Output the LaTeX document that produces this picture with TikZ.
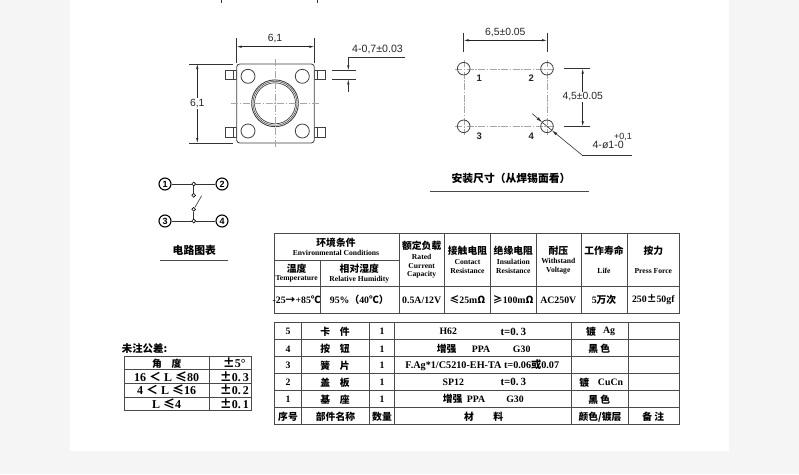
\documentclass[tikz,border=0pt]{standalone}
\usepackage{fontspec}
\setmainfont{Liberation Serif}
\newfontfamily\cjk{Noto Sans CJK SC}
\newfontfamily\dimfont{Liberation Sans}
\usetikzlibrary{arrows.meta}
\definecolor{pagegray}{HTML}{F5F5F5}
\definecolor{rulegray}{HTML}{4A4A4A}
\tikzset{
  part/.style={line width=0.8pt, black!75},
  center line/.style={line width=0.35pt, gray!70, dash pattern=on 7pt off 1.5pt on 1.5pt off 1.5pt},
  thin line/.style={line width=0.6pt, black!80},
  dim/.style={line width=0.6pt, black!85, {Latex[length=5pt,width=2.4pt]}-{Latex[length=5pt,width=2.4pt]}},
  dim label/.style={inner sep=1pt, font=\dimfont\fontsize{10.4}{11}\selectfont, black!85},
  small label/.style={inner sep=1pt, font=\dimfont\fontsize{10.6}{11}\selectfont, black!85},
  pin label/.style={inner sep=0pt, font=\dimfont\bfseries\fontsize{9.5}{10}\selectfont, black!85},
  rule/.style={line width=0.9pt, rulegray},
  heading/.style={inner sep=0pt, font=\cjk\bfseries\fontsize{10.8}{12}\selectfont},
  terminal/.style={circle, draw, line width=1.1pt, inner sep=0pt, minimum size=12pt, font=\dimfont\bfseries\fontsize{9}{9}\selectfont},
  contact/.style={circle, draw, line width=0.6pt, fill=white, inner sep=0pt, minimum size=3.8pt},
  zh/.style={inner sep=0pt, font=\cjk\bfseries\fontsize{9.8}{10}\selectfont},
  en/.style={inner sep=0pt, font=\bfseries\fontsize{7.6}{8}\selectfont},
  val/.style={inner sep=0pt, font=\bfseries\fontsize{9.8}{10}\selectfont},
  tol/.style={inner sep=0pt, font=\bfseries\fontsize{12}{13}\selectfont}
}
\begin{document}
\begin{tikzpicture}[x=1pt, y=-1pt]
  \useasboundingbox (0,0) rectangle (799,474);
  \fill[pagegray] (0,0) rectangle (799,474);
  \fill[white] (70,0) rectangle (729,451);

  \draw[thin line] (221.7,0) -- (221.7,3);
  \draw[thin line] (317.3,0) -- (317.3,3);

  \draw[part] (225.7,70.3) rectangle (236.7,79.3);
  \draw[part] (225.7,127.7) rectangle (236.7,137);
  \draw[part] (314.3,70.3) rectangle (325.3,79.3);
  \draw[part] (314.3,127.7) rectangle (325.3,137);
  \draw[part] (233,70.3) -- (233,79.3);
  \draw[part] (233,127.7) -- (233,137);
  \draw[part] (317.5,70.3) -- (317.5,79.3);
  \draw[part] (317.5,127.7) -- (317.5,137);
  \draw[part, fill=white, rounded corners=3pt] (236.7,64) rectangle (314.3,143);
  \draw[part] (248,76.3) circle (7);
  \draw[part] (302.3,76.3) circle (7);
  \draw[part] (248,131) circle (7);
  \draw[part] (302.3,131) circle (7);
  \draw[part, line width=0.9pt] (275,103.3) circle (23.4);
  \draw[part, line width=0.5pt] (275,103.3) circle (22);
  \draw[part, line width=0.7pt] (275,103.3) circle (20.5);
  \draw[center line] (275.3,59) -- (275.3,147.7);
  \draw[center line] (231,103.3) -- (319.3,103.3);

  \draw[thin line] (236.7,38) -- (236.7,63);
  \draw[thin line] (314.3,38) -- (314.3,63);
  \coordinate (wl) at (236.7,46.7);
  \coordinate (wr) at (314.3,46.7);
  \draw[dim] (wl) -- (wr);
  \node[dim label] (wtext) at (275,38.5) {6,1};
  \draw[thin line] (189.3,64) -- (232.7,64);
  \draw[thin line] (189.3,143) -- (232.7,143);
  \coordinate (ht) at (197.3,64);
  \coordinate (hb) at (197.3,143);
  \draw[dim] (ht) -- (hb);
  \node[dim label, fill=white] (htext) at (197.3,103.3) {6,1};
  \draw[thin line] (332.3,70.3) -- (356,70.3);
  \draw[thin line] (332.3,79.3) -- (356,79.3);
  \coordinate (pt) at (348.3,57.3);
  \coordinate (pe) at (405,57.3);
  \coordinate (pa) at (348.3,70.3);
  \coordinate (pc) at (348.3,79.3);
  \coordinate (pb) at (348.3,91.7);
  \draw[thin line, -{Latex[length=5pt,width=2.4pt]}] (pt) -- (pa);
  \draw[thin line, -{Latex[length=5pt,width=2.4pt]}] (pb) -- (pc);
  \draw[thin line] (pt) -- (pe);
  \node[small label, anchor=west] (ptext) at (351,49) {4-0,7±0.03};

  \draw[center line] (455,68.7) -- (555,68.7);
  \draw[center line] (455,126.3) -- (555,126.3);
  \draw[center line] (463.7,60) -- (463.7,135);
  \draw[center line] (547,60) -- (547,135);
  \draw[part] (463.7,68.7) circle (6.3);
  \draw[part] (547,68.7) circle (6.3);
  \draw[part] (463.7,126.3) circle (6.3);
  \draw[part] (547,126.3) circle (6.3);
  \node[pin label] (hole1) at (479.3,78.3) {1};
  \node[pin label] (hole2) at (531.3,78.3) {2};
  \node[pin label] (hole3) at (479.3,136) {3};
  \node[pin label] (hole4) at (531.3,136) {4};

  \draw[thin line] (463.7,32.7) -- (463.7,51.7);
  \draw[thin line] (547,32.7) -- (547,51.7);
  \coordinate (sl) at (463.7,40.3);
  \coordinate (sr) at (547,40.3);
  \draw[dim] (sl) -- (sr);
  \node[dim label] (stext) at (505.3,32.3) {6,5±0.05};
  \draw[thin line] (564.3,68.7) -- (590,68.7);
  \draw[thin line] (564.3,126.3) -- (590,126.3);
  \coordinate (vt) at (582.7,68.7);
  \coordinate (vb) at (582.7,126.3);
  \draw[dim] (vt) -- (vb);
  \node[dim label, fill=white] (vtext) at (582.7,97) {4,5±0.05};
  \coordinate (da) at (532.3,113.7);
  \coordinate (de) at (542.2,122.3);
  \coordinate (df) at (551.8,130.3);
  \coordinate (db) at (582.3,155.3);
  \coordinate (dc) at (631.7,155.3);
  \draw[thin line, -{Latex[length=6pt,width=3pt]}] (da) -- (de);
  \draw[thin line, -{Latex[length=6pt,width=3pt]}] (db) -- (df);
  \draw[thin line] (de) -- (df);
  \draw[thin line] (db) -- (dc);
  \node[small label, anchor=east] (dtext) at (625,144.7) {4-ø1-0};
  \node[small label, font=\dimfont\fontsize{9}{9}\selectfont] (dplus) at (623,136.7) {+0,1};

  \node[heading] (mounttitle) at (511,178.3) {安装尺寸（从焊锡面看）};
  \draw[rule] (430,191) -- (589,191);

  \node[terminal] (1) at (165,184) {1};
  \node[terminal] (2) at (222,184) {2};
  \node[terminal] (3) at (165,221) {3};
  \node[terminal] (4) at (222,221) {4};
  \node[contact] (a) at (193.7,184) {};
  \node[contact] (b) at (193.7,195.3) {};
  \node[contact] (c) at (193.7,209.3) {};
  \node[contact] (d) at (193.7,221) {};
  \coordinate (e) at (201.7,195.7);
  \draw[thin line] (1) -- (a) -- (2);
  \draw[thin line] (3) -- (d) -- (4);
  \draw[thin line] (a) -- (b);
  \draw[thin line] (c) -- (d);
  \draw[thin line] (c) -- (e);
  \node[heading] (circuittitle) at (194.3,250) {电路图表};
  \draw[rule] (160,260) -- (228,260);

  \draw[rule] (274.3,233) rectangle (679.7,313.3);
  \draw[rule] (274.3,260) -- (399,260);
  \draw[rule] (274.3,286.3) -- (679.7,286.3);
  \draw[rule] (320,260) -- (320,313.3);
  \draw[rule] (399,233) -- (399,313.3);
  \draw[rule] (444.7,233) -- (444.7,313.3);
  \draw[rule] (490.3,233) -- (490.3,313.3);
  \draw[rule] (536,233) -- (536,313.3);
  \draw[rule] (581,233) -- (581,313.3);
  \draw[rule] (627.3,233) -- (627.3,313.3);

  \node[zh] (envzh) at (336,242.7) {环境条件};
  \node[en] (envenu) at (336,253) {Environmental Conditions};
  \node[zh] (tempzh) at (296.7,268.3) {温度};
  \node[en] (tempen) at (296.7,279.3) {Temperature};
  \node[zh] (humzh) at (359.3,268.3) {相对湿度};
  \node[en] (humen) at (359.3,279.3) {Relative Humidity};
  \node[zh] (ratedzh) at (421.7,246) {额定负载};
  \node[en] (rateda) at (421.7,256.7) {Rated};
  \node[en] (ratedb) at (421.7,265.7) {Current};
  \node[en] (ratedc) at (421.7,275) {Capacity};
  \node[zh] (contzh) at (467.5,250.7) {接触电阻};
  \node[en] (conta) at (467.5,261.7) {Contact};
  \node[en] (contb) at (467.5,271) {Resistance};
  \node[zh] (inszh) at (513.3,250.7) {绝缘电阻};
  \node[en] (insa) at (513.3,261.7) {Insulation};
  \node[en] (insb) at (513.3,271) {Resistance};
  \node[zh] (volzh) at (558.3,250.7) {耐压};
  \node[en] (vola) at (558.3,261) {Withstand};
  \node[en] (volb) at (558.3,270.7) {Voltage};
  \node[zh] (lifezh) at (604,250.7) {工作寿命};
  \node[en] (lifeen) at (604,270.7) {Life};
  \node[zh] (presszh) at (653.3,251) {按力};
  \node[en] (pressen) at (653.3,271) {Press Force};

  \node[val] (tempval) at (296.7,300) {-25{\cjk→}+85{\cjk ℃}};
  \node[val] (humval) at (359.3,300) {95\%{\cjk（}40{\cjk ℃）}};
  \node[val] (ratedval) at (421.7,300) {0.5A/12V};
  \node[val] (contval) at (467.5,300) {{\cjk ≤}25m{\cjk Ω}};
  \node[val] (insval) at (513.3,300) {{\cjk ≥}100m{\cjk Ω}};
  \node[val] (volval) at (558.3,300) {AC250V};
  \node[val] (lifeval) at (604,300) {5{\cjk 万次}};
  \node[val] (pressval) at (653.3,300) {250{\cjk ±}50gf};

  \draw[rule] (274.3,322.7) rectangle (679.7,424.3);
  \draw[rule] (274.3,339.7) -- (679.7,339.7);
  \draw[rule] (274.3,356.7) -- (679.7,356.7);
  \draw[rule] (274.3,373.7) -- (679.7,373.7);
  \draw[rule] (274.3,390.3) -- (679.7,390.3);
  \draw[rule] (274.3,407.3) -- (679.7,407.3);
  \draw[rule] (301.7,322.7) -- (301.7,424.3);
  \draw[rule] (369.3,322.7) -- (369.3,424.3);
  \draw[rule] (394.7,322.7) -- (394.7,424.3);
  \draw[rule] (571.7,322.7) -- (571.7,424.3);
  \draw[rule] (628.3,322.7) -- (628.3,424.3);

  \node[val] (no5) at (288,331.7) {5};
  \node[zh] (name5) at (335,331.7) {卡\quad 件};
  \node[val] (qty5) at (382,331.7) {1};
  \node[val] (mat5) at (448.3,331.7) {H62};
  \node[val, font=\bfseries\fontsize{11}{12}\selectfont] (thk5) at (513.3,331.7) {t=0.\,3};
  \node[zh] (fin5) at (591,331.7) {镀};
  \node[val] (fin5b) at (609,331.7) {Ag};
  \node[val] (no4) at (288,349) {4};
  \node[zh] (name4) at (335,349) {按\quad 钮};
  \node[val] (qty4) at (382,349) {1};
  \node[zh] (mat4) at (446.7,349) {增强};
  \node[val] (mat4b) at (481,349) {PPA};
  \node[val] (mat4c) at (521.7,349) {G30};
  \node[zh] (fin4) at (599.3,349) {黑\ 色};
  \node[val] (no3) at (288,365.5) {3};
  \node[zh] (name3) at (335,365.5) {簧\quad 片};
  \node[val] (qty3) at (382,365.5) {1};
  \node[val, font=\bfseries\fontsize{10.2}{11}\selectfont] (mat3) at (482.3,365.5) {F.Ag*1/C5210-EH-TA t=0.06{\cjk 或}0.07};
  \node[val] (no2) at (288,382.3) {2};
  \node[zh] (name2) at (335,382.3) {盖\quad 板};
  \node[val] (qty2) at (382,382.3) {1};
  \node[val] (mat2) at (453.3,382.3) {SP12};
  \node[val, font=\bfseries\fontsize{11}{12}\selectfont] (thk2) at (513.3,382.3) {t=0.\,3};
  \node[zh] (fin2) at (584.3,382.3) {镀};
  \node[val] (fin2b) at (610.5,382.3) {CuCn};
  \node[val] (no1) at (288,399.3) {1};
  \node[zh] (name1) at (335,399.3) {基\quad 座};
  \node[val] (qty1) at (382,399.3) {1};
  \node[zh] (mat1) at (452.7,399.3) {增强};
  \node[val] (mat1b) at (476,399.3) {PPA};
  \node[val] (mat1c) at (515,399.3) {G30};
  \node[zh] (fin1) at (599.3,399.3) {黑\ 色};
  \node[zh] (headno) at (288,416.7) {序号};
  \node[zh] (headname) at (335.5,416.7) {部件名称};
  \node[zh] (headqty) at (382,416.7) {数量};
  \node[zh] (headmata) at (469,416.7) {材};
  \node[zh] (headmatb) at (498.3,416.7) {料};
  \node[zh] (headfin) at (600,416.7) {颜色/镀层};
  \node[zh] (headnote) at (653.3,416.7) {备\ 注};

  \node[zh, anchor=west, font=\cjk\bfseries\fontsize{10.4}{11}\selectfont] (toltitle) at (121.7,349) {未注公差:};
  \draw[rule] (124.3,356) rectangle (251.7,410.3);
  \draw[rule] (124.3,369.3) -- (251.7,369.3);
  \draw[rule] (124.3,383.3) -- (251.7,383.3);
  \draw[rule] (124.3,397) -- (251.7,397);
  \draw[rule] (209.3,356) -- (209.3,410.3);
  \node[zh] (tolhead) at (166.7,363.3) {角\quad 度};
  \node[tol] (tol0) at (234.3,363) {{\cjk ±}5°};
  \node[tol] (range3) at (166.7,376.7) {16\ {\cjk ＜}\ L\ {\cjk ≤}80};
  \node[tol] (tol3) at (234.3,376.7) {{\cjk ±}0.\,3};
  \node[tol] (range2) at (166.7,390) {4\ {\cjk ＜}\ L\ {\cjk ≤}16};
  \node[tol] (tol2) at (234.3,390) {{\cjk ±}0.\,2};
  \node[tol] (range1) at (166.7,404) {L\ {\cjk ≤}4};
  \node[tol] (tol1) at (234.3,404) {{\cjk ±}0.\,1};
\end{tikzpicture}
\end{document}
